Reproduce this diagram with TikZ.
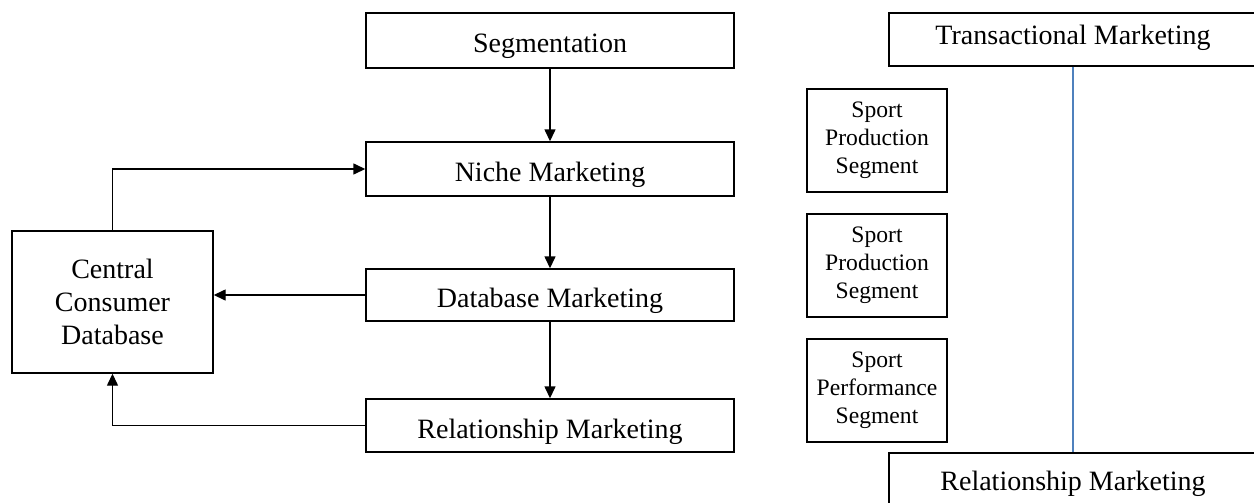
\documentclass[tikz,border=0pt]{standalone}
\usepackage{fontspec}
\setmainfont{Liberation Serif}
\usetikzlibrary{arrows.meta}
\definecolor{lineblue}{HTML}{4F81BD}
\begin{document}
\begin{tikzpicture}[x=0.5pt,y=-0.5pt,
  box/.style={draw=black,line width=0.7pt,inner sep=0pt,align=center,
    font=\fontsize{14}{16.6}\selectfont},
  mainbox/.style={box,minimum width=184pt,text height=12.5pt,text depth=0pt},
  small/.style={box,minimum width=70pt,minimum height=51.5pt,
    font=\fontsize{11.8}{13.9}\selectfont},
  arr/.style={line width=0.7pt,-{Triangle[length=6pt,width=5.5pt]}}]
\useasboundingbox (0,0) rectangle (1254,503);
\clip (0,0) rectangle (1254,503);
\node[mainbox,minimum height=27.5pt] (seg) at (550,40.5) {Segmentation};
\node[mainbox,minimum height=27pt] (niche) at (550,169) {Niche Marketing};
\node[mainbox,minimum height=26pt] (db) at (550,295) {Database Marketing};
\node[mainbox,minimum height=26.5pt] (rel) at (550,425.5) {Relationship Marketing};
\node[box,minimum width=100.5pt,minimum height=71pt] (ccd) at (112.5,302) {Central\\Consumer\\Database};
\node[small] (s1) at (877,140.5) {Sport\\Production\\Segment};
\node[small] (s2) at (877,265.5) {Sport\\Production\\Segment};
\node[small] (s3) at (877,390.5) {Sport\\Performance\\Segment};
\node[box,minimum width=184pt,minimum height=26.5pt,text height=5.5pt,text depth=0pt] (trans) at (1073,39.5) {Transactional Marketing};
\node[box,minimum width=184pt,minimum height=28pt,text height=9pt,text depth=0pt] (relr) at (1073,481) {Relationship Marketing};
\draw[arr] (seg) -- (niche);
\draw[arr] (niche) -- (db);
\draw[arr] (db) -- (rel);
\draw[arr] (db.west) -- (db.west -| ccd.east);
\draw[arr] (rel.west) -| (ccd.south);
\draw[arr] (ccd.north) |- (niche.west);
\draw[lineblue,line width=0.8pt] (trans.south) -- (relr.north);
\end{tikzpicture}
\end{document}
